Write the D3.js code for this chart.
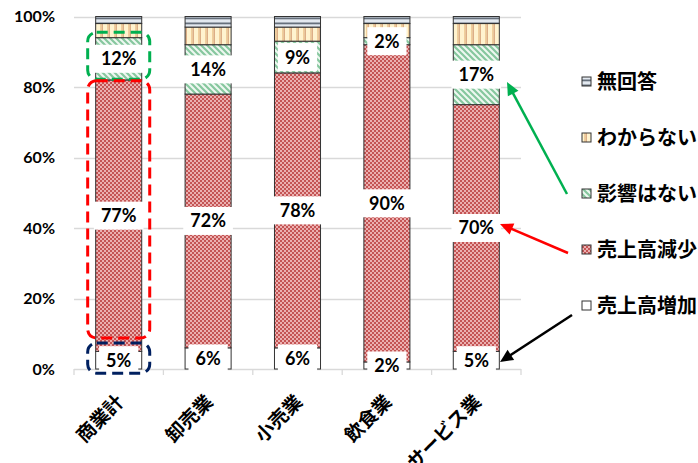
<!DOCTYPE html>
<html>
<head>
<meta charset="utf-8">
<script src="https://cdn.jsdelivr.net/npm/d3@7"></script>
<style>
  html, body { margin: 0; padding: 0; background: #fff; }
  svg { display: block; }
</style>
</head>
<body>
<svg id="chart" width="698" height="463"></svg>
<script>
// Survey results by sector (percent of respondents)
const categories = ["商業計", "卸売業", "小売業", "飲食業", "サービス業"];
const seriesNames = ["売上高増加", "売上高減少", "影響はない", "わからない", "無回答"];
const increase = [5, 6, 6, 2, 5];
const decrease = [77, 72, 78, 90, 70];
const noEffect = [12, 14, 9, 2, 17];
const unknown  = [4, 5, 4, 4, 6];
const noAnswer = [2, 3, 3, 2, 2];
const yTicks = [0, 20, 40, 60, 80, 100];
const labelledSeries = ["売上高増加", "売上高減少", "影響はない"];

const seriesValues = [increase, decrease, noEffect, unknown, noAnswer];
const rows = categories.map((c, i) => {
  const r = { category: c };
  seriesNames.forEach((s, k) => r[s] = seriesValues[k][i]);
  return r;
});

const svg = d3.select("#chart");
const plot = { left: 74, right: 521, top: 16.5, bottom: 369 };

const x = d3.scaleBand().domain(categories)
  .range([plot.left, plot.right]).paddingInner(0.485).paddingOuter(0.2425);
const y = d3.scaleLinear().domain([0, 100]).range([plot.bottom, plot.top]);

// ---- fill patterns ----
const defs = svg.append("defs");

// red small checkerboard
const pRed = defs.append("pattern").attr("id", "pat-dec")
  .attr("patternUnits", "userSpaceOnUse").attr("width", 4).attr("height", 4);
pRed.append("rect").attr("width", 4).attr("height", 4).attr("fill", "#ebb0b0");
pRed.append("rect").attr("x", 0).attr("y", 0).attr("width", 2).attr("height", 2).attr("fill", "#c45454");
pRed.append("rect").attr("x", 2).attr("y", 2).attr("width", 2).attr("height", 2).attr("fill", "#c45454");

// green diagonal stripes
const pGreen = defs.append("pattern").attr("id", "pat-none")
  .attr("patternUnits", "userSpaceOnUse").attr("width", 6).attr("height", 6);
pGreen.append("rect").attr("width", 6).attr("height", 6).attr("fill", "#eef8f1");
pGreen.append("path").attr("d", "M-1,5 l2,2 M0,0 l6,6 M5,-1 l2,2")
  .attr("stroke", "#86c79e").attr("stroke-width", 2.2);

// yellow vertical stripes
const pYellow = defs.append("pattern").attr("id", "pat-unk")
  .attr("patternUnits", "userSpaceOnUse").attr("width", 7).attr("height", 7);
pYellow.append("rect").attr("width", 7).attr("height", 7).attr("fill", "#fff3cf");
pYellow.append("rect").attr("x", 2).attr("width", 1.5).attr("height", 7).attr("fill", "#f0cf9c");
pYellow.append("rect").attr("x", 3.5).attr("width", 1.5).attr("height", 7).attr("fill", "#dcae86");

// grey horizontal lines
const pGrey = defs.append("pattern").attr("id", "pat-na")
  .attr("patternUnits", "userSpaceOnUse").attr("width", 6).attr("height", 5);
pGrey.append("rect").attr("width", 6).attr("height", 5).attr("fill", "#e3e9f0");
pGrey.append("rect").attr("y", 2.5).attr("width", 6).attr("height", 1.8).attr("fill", "#66707c");

const fills = {
  "売上高増加": "#ffffff",
  "売上高減少": "url(#pat-dec)",
  "影響はない": "url(#pat-none)",
  "わからない": "url(#pat-unk)",
  "無回答": "url(#pat-na)"
};

// ---- gridlines and axes ----
svg.append("g").selectAll("line").data(yTicks).join("line")
  .attr("x1", plot.left).attr("x2", plot.right)
  .attr("y1", d => Math.round(y(d)) + 0.5).attr("y2", d => Math.round(y(d)) + 0.5)
  .attr("stroke", "#d9d9d9").attr("stroke-width", 1.3);

const yAxis = svg.append("g").attr("transform", `translate(${plot.left},0)`)
  .call(d3.axisLeft(y).tickValues(yTicks).tickFormat(d => d + "%").tickSize(0).tickPadding(19));
yAxis.select(".domain").remove();
yAxis.selectAll("text")
  .attr("font-family", "Lato, 'Open Sans', sans-serif")
  .attr("font-weight", "bold").attr("font-size", 16).attr("fill", "#000");

// category boundary ticks
const bounds = categories.map(c => x(c) - x.step() * x.paddingInner() / 2)
  .concat([plot.right]);
svg.append("g").selectAll("line").data(bounds).join("line")
  .attr("x1", d => d).attr("x2", d => d)
  .attr("y1", plot.bottom).attr("y2", plot.bottom + 6)
  .attr("stroke", "#d9d9d9").attr("stroke-width", 1.3);

// ---- stacked bars ----
const stacked = d3.stack().keys(seriesNames)(rows);
const layers = svg.append("g").selectAll("g").data(stacked).join("g")
  .attr("fill", d => fills[d.key]);
layers.selectAll("rect").data(d => d).join("rect")
  .attr("x", d => x(d.data.category))
  .attr("width", x.bandwidth())
  .attr("y", d => y(d[1]))
  .attr("height", d => y(d[0]) - y(d[1]))
  .attr("stroke", "#333").attr("stroke-width", 1);

// ---- value labels ----
const labelFont = "Lato, 'Open Sans', sans-serif";
const labelData = [];
stacked.filter(s => labelledSeries.includes(s.key)).forEach(s => {
  s.forEach(d => labelData.push({
    cx: x(d.data.category) + x.bandwidth() / 2,
    cy: y((d[0] + d[1]) / 2),
    text: (d[1] - d[0]) + "%"
  }));
});
const labels = svg.append("g").selectAll("g").data(labelData).join("g")
  .attr("transform", d => `translate(${d.cx},${d.cy})`);
labels.append("text")
  .attr("text-anchor", "middle").attr("dy", "0.36em")
  .attr("font-family", labelFont).attr("font-weight", "bold")
  .attr("font-size", 18).attr("fill", "#000")
  .text(d => d.text)
  .each(function (d) { d.w = this.getComputedTextLength(); });
labels.insert("rect", "text")
  .attr("x", d => -(d.w / 2 + 7)).attr("y", -14)
  .attr("width", d => d.w + 14).attr("height", 28)
  .attr("fill", "#fff");

// ---- x category labels ----
svg.append("g").selectAll("text").data(categories).join("text")
  .attr("transform", d => `translate(${x(d) + x.bandwidth() / 2 - 4},${plot.bottom + 24}) rotate(-45)`)
  .attr("text-anchor", "end").attr("dy", "0.75em")
  .attr("font-family", "'Noto Sans CJK JP', sans-serif")
  .attr("font-weight", "bold").attr("font-size", 19).attr("fill", "#000")
  .text(d => d);

// ---- dashed highlight frames around 商業計 ----
const b0 = x(categories[0]);
const frames = [
  { y0: 95.5, y1: 82.2, color: "#00b050" },
  { y0: 81.8, y1: 8.8, color: "#ff0000" },
  { y0: 7.4, y1: -1.2, color: "#002060" }
];
svg.append("g").selectAll("rect").data(frames).join("rect")
  .attr("x", b0 - 8).attr("width", x.bandwidth() + 16)
  .attr("y", d => y(d.y0)).attr("height", d => y(d.y1) - y(d.y0))
  .attr("rx", 9).attr("ry", 9)
  .attr("fill", "none").attr("stroke", d => d.color)
  .attr("stroke-width", 3).attr("stroke-dasharray", "11 6");

// ---- legend ----
const legendOrder = seriesNames.slice().reverse();
const legend = svg.append("g").selectAll("g").data(legendOrder).join("g")
  .attr("transform", (d, i) => `translate(582,${82 + i * 56})`);
legend.append("rect")
  .attr("x", 0).attr("y", -5).attr("width", 9).attr("height", 9)
  .attr("fill", d => fills[d]).attr("stroke", "#333").attr("stroke-width", 1);
legend.append("text")
  .attr("x", 15).attr("dy", "0.35em")
  .attr("font-family", "'Noto Sans CJK JP', sans-serif")
  .attr("font-weight", "bold").attr("font-size", 20).attr("fill", "#000")
  .text(d => d);

// ---- pointer arrows ----
const arrows = [
  { x1: 567, y1: 194, x2: 507, y2: 82, color: "#00b050" },
  { x1: 568, y1: 253, x2: 500, y2: 224, color: "#ff0000" },
  { x1: 572, y1: 315, x2: 500, y2: 362, color: "#000000" }
];
const arrowG = svg.append("g").selectAll("g").data(arrows).join("g");
arrowG.append("line")
  .attr("x1", d => d.x1).attr("y1", d => d.y1)
  .attr("x2", d => d.x2 + (d.x1 - d.x2) * 10 / Math.hypot(d.x1 - d.x2, d.y1 - d.y2))
  .attr("y2", d => d.y2 + (d.y1 - d.y2) * 10 / Math.hypot(d.x1 - d.x2, d.y1 - d.y2))
  .attr("stroke", d => d.color).attr("stroke-width", 2.5);
arrowG.append("path")
  .attr("d", d => {
    const a = Math.atan2(d.y2 - d.y1, d.x2 - d.x1);
    const L = 13, W = 6;
    const bx = d.x2 - L * Math.cos(a), by = d.y2 - L * Math.sin(a);
    const px = -Math.sin(a) * W, py = Math.cos(a) * W;
    return `M${d.x2},${d.y2}L${bx + px},${by + py}L${bx - px},${by - py}Z`;
  })
  .attr("fill", d => d.color);
</script>
</body>
</html>
